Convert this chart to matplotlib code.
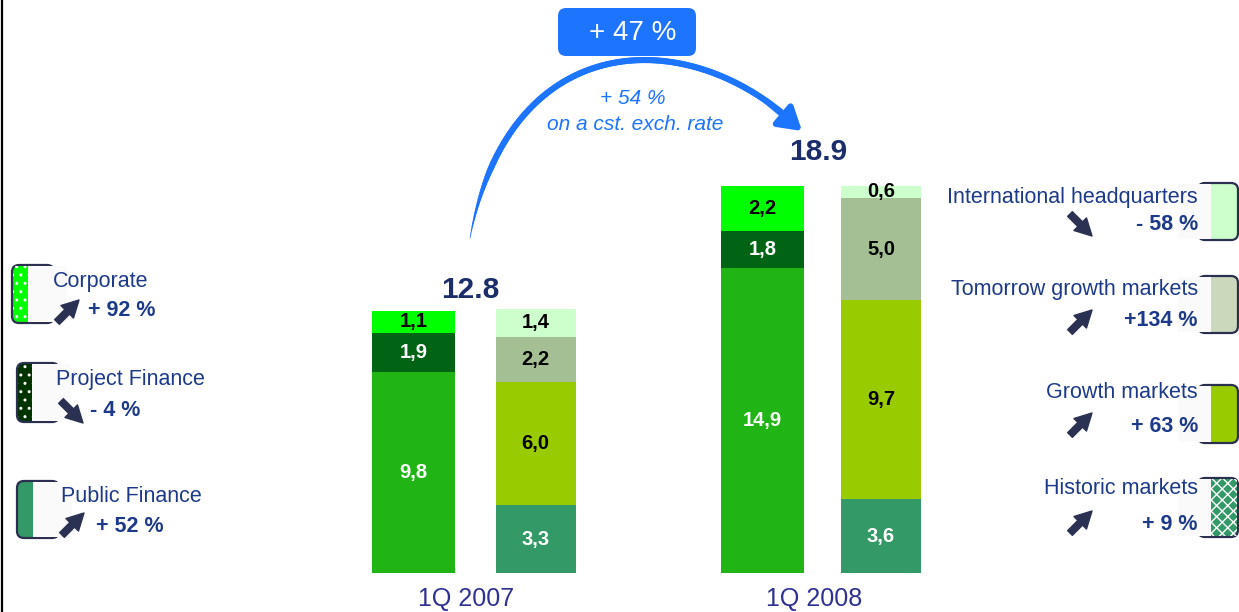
import numpy as np
import matplotlib.pyplot as plt
from matplotlib.patches import FancyBboxPatch, Rectangle
from matplotlib.collections import LineCollection

plt.rcParams['font.family'] = ['Liberation Sans', 'DejaVu Sans']

periods = ['1Q 2007', '1Q 2008']

# Business lines, bottom to top of the left stack
business_lines = ['Public Finance', 'Project Finance', 'Corporate']
public_finance = [9.8, 14.9]
project_finance = [1.9, 1.8]
corporate = [1.1, 2.2]
business_growth = ['+ 52 %', '- 4 %', '+ 92 %']
business_trend = ['up', 'down', 'up']

# Geographic split, bottom to top of the right stack
regions = ['Historic markets', 'Growth markets', 'Tomorrow growth markets',
           'International headquarters']
historic = [3.3, 3.6]
growth_mkts = [6.0, 9.7]
tomorrow = [2.2, 5.0]
intl_hq = [1.4, 0.6]
region_growth = ['+ 9 %', '+ 63 %', '+134 %', '- 58 %']
region_trend = ['up', 'up', 'up', 'down']

total_change = '+ 47 %'
cst_change = '+ 54 %'
cst_note = 'on a cst. exch. rate'

# colours
BLUE = '#1c74ff'
NAVY = '#1d3a8a'
ARROW = '#2b3152'
biz_colors = ['#20b515', '#006414', '#00ff00']
geo_colors = ['#339966', '#99cc00', '#a5bf94', '#ccffcc']
biz_text = ['white', 'white', 'black']
geo_text = ['white', 'black', 'black', 'black']
biz_legend = ['#339966', '#003300', '#00ff00']
geo_legend = ['#339966', '#99cc00', '#ccd8bb', '#ccffcc']

W, H = 1239, 612
PX = 20.5          # pixels per unit of the bar scale
BASE = 573         # baseline, pixels from top

fig = plt.figure(figsize=(W / 100, H / 100), dpi=100)
fig.patch.set_facecolor('white')

ax = fig.add_axes([0, 0, 1, 1])
ax.set_xlim(0, W)
ax.set_ylim(-(H - BASE) / PX, BASE / PX)
ax.axis('off')

# overlay in pixel coordinates (y down) for the annotations
ov = fig.add_axes([0, 0, 1, 1], zorder=3)
ov.set_xlim(0, W)
ov.set_ylim(H, 0)
ov.axis('off')
ov.patch.set_alpha(0)

left_x = np.array([413.5, 762.5])
right_x = np.array([535.5, 881.0])
left_w, right_w = 83, 80


def fmt(v):
    return f'{v:.1f}'.replace('.', ',')


def stack(xs, width, series, colors, tcolors):
    bottom = np.zeros(len(xs))
    for vals, c, tc in zip(series, colors, tcolors):
        vals = np.array(vals)
        ax.bar(xs, vals, width=width, bottom=bottom, color=c, linewidth=0)
        for x, b, v in zip(xs, bottom, vals):
            ax.text(x, b + v / 2, fmt(v), ha='center', va='center',
                    fontsize=14.5, fontweight='bold', color=tc)
        bottom = bottom + vals
    return bottom


biz_tot = stack(left_x, left_w, [public_finance, project_finance, corporate],
                biz_colors, biz_text)
stack(right_x, right_w, [historic, growth_mkts, tomorrow, intl_hq],
      geo_colors, geo_text)

# period labels and totals
for lbl, x in zip(periods, [466, 814]):
    ov.text(x, 599, lbl, ha='center', va='center', fontsize=18,
            color='#2e3192')
for tot, (x, y) in zip(biz_tot, [(470, 290), (818, 152)]):
    ov.text(x, y, f'{tot:.1f}', ha='center', va='center', fontsize=21.5,
            fontweight='bold', color='#1b2e6b')

# growth arc between the two totals (cubic Bezier, tapered at the tail)
p0, c1, c2, p3 = (np.array(p) for p in [(470, 238), (509, 26), (692, 21), (802, 131)])


def bez(t):
    t = np.asarray(t, dtype=float)[..., None]
    return ((1 - t) ** 3 * p0 + 3 * t * (1 - t) ** 2 * c1
            + 3 * t ** 2 * (1 - t) * c2 + t ** 3 * p3)


pts = bez(np.linspace(0, 0.94, 160))
segs = np.stack([pts[:-1], pts[1:]], axis=1)
lw = np.clip(np.linspace(0.5, 30, len(segs)), 0.5, 4.4)
ov.add_collection(LineCollection(segs, linewidths=lw, colors=BLUE,
                                 capstyle='round'))
ov.annotate('', xy=p3, xytext=bez(0.9),
            arrowprops=dict(arrowstyle='-|>,head_length=0.9,head_width=0.55',
                            color=BLUE, lw=4.4, mutation_scale=15,
                            shrinkA=0, shrinkB=0))

ov.add_patch(FancyBboxPatch((558, 8), 138, 48,
                            boxstyle='round,pad=0,rounding_size=8',
                            fc=BLUE, ec='none'))
ov.text(633, 33, total_change, ha='center', va='center', fontsize=20,
        color='white')
ov.text(633, 98, cst_change, ha='center', va='center', fontsize=15,
        style='italic', color=BLUE)
ov.text(635, 124, cst_note, ha='center', va='center', fontsize=15,
        style='italic', color=BLUE)


def trend_arrow(x, y, trend):
    if trend == 'up':
        tail, head = (x, y), (x + 22, y - 22)
    else:
        tail, head = (x, y - 22), (x + 22, y)
    ov.annotate('', xy=head, xytext=tail,
                arrowprops=dict(arrowstyle='simple,head_length=0.8,head_width=0.85,tail_width=0.32',
                                color=ARROW, mutation_scale=15,
                                shrinkA=0, shrinkB=0))


def legend_box(x0, x1, y0, y1, cover0, cover1, color, hatch=None):
    ov.add_patch(FancyBboxPatch((x0, y0), x1 - x0, y1 - y0,
                                boxstyle='round,pad=0,rounding_size=7',
                                fc=color, ec='#2b3050', lw=1.6))
    if hatch:
        ov.add_patch(Rectangle((x0 + 1, y0 + 1), x1 - x0 - 2, y1 - y0 - 2,
                               fc='none', ec='white', lw=0, hatch=hatch))
    ov.add_patch(Rectangle((cover0, y0 + 1.2), cover1 - cover0, y1 - y0 - 2.4,
                           fc='#fafafa', ec='none'))


# left legend: business lines
left_rows = [  # box y0, y1, box x0, cover x0, name (x, y), pct (x, y), arrow (x, y)
    (481, 538, 17, 33, (61, 497), (96, 527), (62, 535)),
    (363, 422, 17, 32, (56, 380), (90, 410), (61, 423)),
    (265, 323, 12, 28, (53, 282), (88, 311), (57, 322)),
]
left_hatch = [None, '..', '..']
for i, (y0, y1, bx, cx, nxy, pxy, axy) in enumerate(left_rows):
    legend_box(bx, bx + 42, y0, y1, cx, cx + 39, biz_legend[i], left_hatch[i])
    ov.text(*nxy, business_lines[i], ha='left', va='center', fontsize=15.5,
            color=NAVY)
    ov.text(*pxy, business_growth[i], ha='left', va='center', fontsize=15.5,
            fontweight='bold', color=NAVY)
    trend_arrow(*axy, business_trend[i])

# right legend: geographic split
right_rows = [  # box y0, y1, name y, pct y, arrow y
    (478, 537, 489, 525, 533),
    (385, 443, 393, 426, 435),
    (276, 333, 289, 320, 332),
    (183, 240, 197, 225, 236),
]
right_hatch = ['xxx', None, None, None]
for i, (y0, y1, ny, py, ay) in enumerate(right_rows):
    legend_box(1198, 1238, y0, y1, 1178, 1211, geo_legend[i], right_hatch[i])
    ov.text(1198, ny, regions[i], ha='right', va='center', fontsize=15.5,
            color=NAVY)
    ov.text(1198, py, region_growth[i], ha='right', va='center',
            fontsize=15.5, fontweight='bold', color=NAVY)
    trend_arrow(1070, ay, region_trend[i])

# left frame line
ov.plot([2, 2], [0, H], color='black', lw=1.6, solid_capstyle='butt')

fig.savefig('out.png', dpi=100, facecolor='white')
